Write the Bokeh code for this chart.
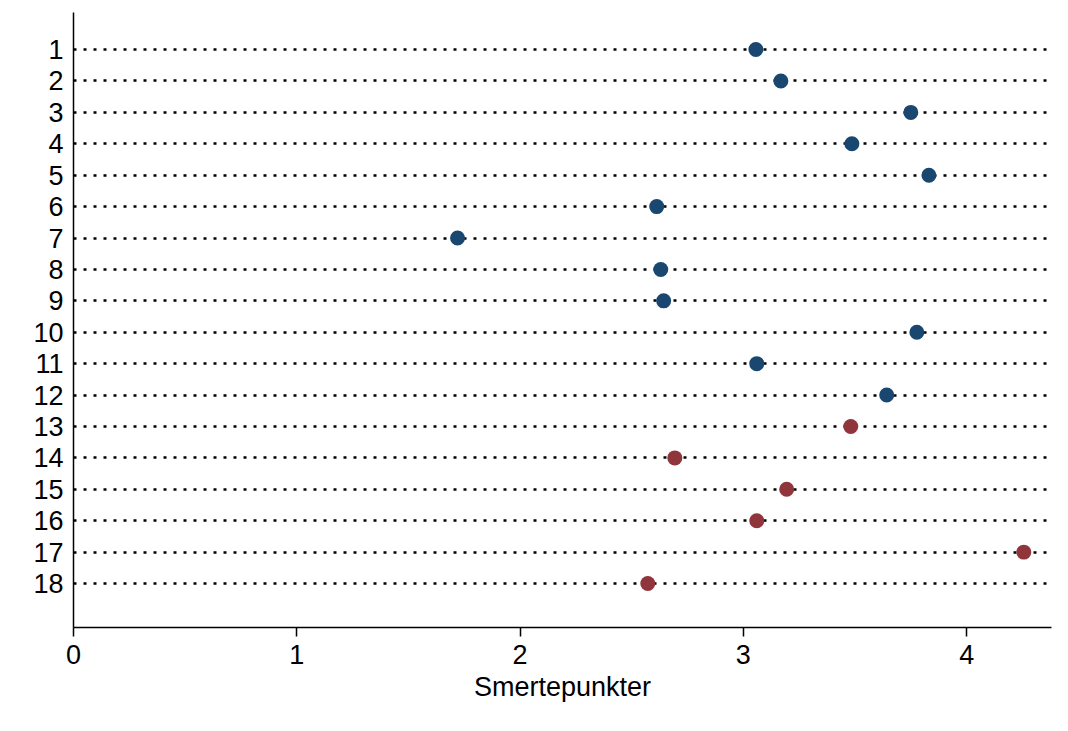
from bokeh.plotting import figure
from bokeh.models import Range1d, FixedTicker
from bokeh.embed import file_html
from bokeh.resources import INLINE

rows = list(range(1, 19))
scores = [3.056, 3.168, 3.750, 3.486, 3.831, 2.612, 1.720, 2.630, 2.643,
          3.777, 3.060, 3.642, 3.481, 2.693, 3.194, 3.060, 4.256, 2.572]
groups = ["A"] * 12 + ["B"] * 6
group_names = ["A", "B"]
palette = ["#1a476f", "#90353b"]
x_ticks = [0, 1, 2, 3, 4]

FONT = "Liberation Sans"

p = figure(width=1052, height=715, output_backend="svg", toolbar_location=None,
           x_range=Range1d(0, 4.38), y_range=Range1d(19.4, -0.18),
           min_border_left=73, min_border_right=1, min_border_top=12, min_border_bottom=88)
p.outline_line_color = None
p.background_fill_color = "white"
p.border_fill_color = "white"

p.xgrid.visible = False
p.ygrid.ticker = FixedTicker(ticks=rows)
p.ygrid.grid_line_color = "black"
p.ygrid.grid_line_width = 2.5
p.ygrid.grid_line_dash = "3 7"

p.scatter(x=scores, y=rows, size=15, line_color=None,
          fill_color=[palette[group_names.index(g)] for g in groups])

p.xaxis.ticker = FixedTicker(ticks=x_ticks)
p.yaxis.ticker = FixedTicker(ticks=rows)
p.xaxis.axis_label = "Smertepunkter"
for ax in (p.xaxis[0], p.yaxis[0]):
    ax.axis_line_color = "black"
    ax.axis_line_width = 1.5
    ax.major_tick_line_color = "black"
    ax.major_tick_line_width = 1.5
    ax.minor_tick_line_color = None
    ax.major_label_text_font = FONT
    ax.major_label_text_font_size = "27px"
    ax.major_label_text_color = "black"
    ax.axis_label_text_font = FONT
    ax.axis_label_text_font_size = "27px"
    ax.axis_label_text_font_style = "normal"
    ax.axis_label_text_color = "black"
p.xaxis.major_tick_in = 0
p.xaxis.major_tick_out = 9
p.xaxis.major_label_standoff = 8
p.xaxis.axis_label_standoff = 5
p.yaxis.major_tick_in = 0
p.yaxis.major_tick_out = 0
p.yaxis.major_label_standoff = 10

open("out.html", "w").write(file_html(p, INLINE))
